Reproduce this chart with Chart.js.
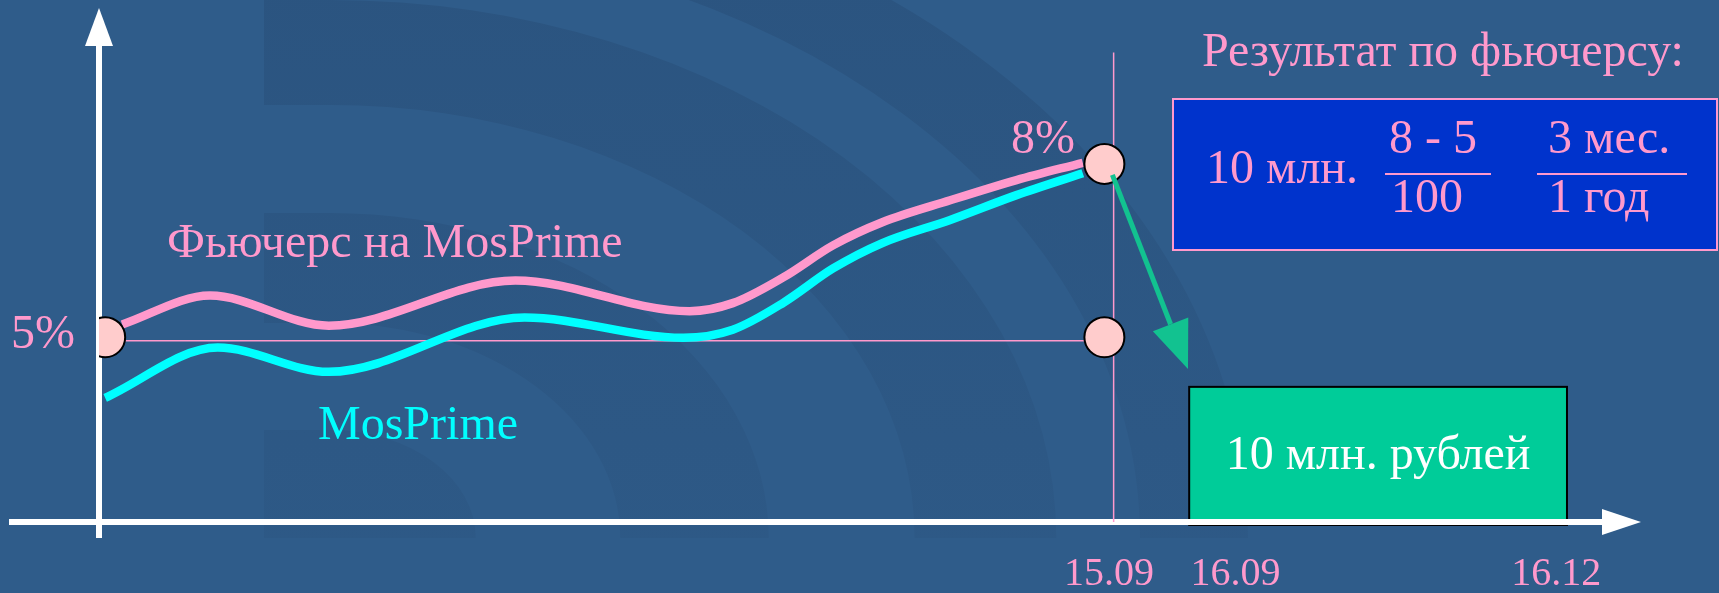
<!DOCTYPE html>
<html>
<head>
<meta charset="utf-8">
<script src="https://cdn.jsdelivr.net/npm/chart.js@4.4.1/dist/chart.umd.min.js"></script>
<style>
  html, body { margin: 0; padding: 0; background: #2e5b89; overflow: hidden; }
  canvas { display: block; }
</style>
</head>
<body>
<canvas id="chart" width="1719" height="593"></canvas>
<script>
// x: time in arbitrary units (0 = y axis), y: rate in percent
const futuresX = [1.5, 7.2, 14.9, 27.0, 38.3, 41.1, 44.4, 47.6, 50.8, 55.2, 59.5, 63.8];
const futuresY = [5.22, 5.72, 5.20, 5.98, 5.45, 5.59, 6.04, 6.59, 6.99, 7.37, 7.72, 8.02];
const mosprimeX = [0.4, 7.7, 14.9, 27.6, 37.9, 41.1, 44.4, 47.6, 50.8, 55.2, 59.5, 63.8];
const mosprimeY = [3.95, 4.82, 4.40, 5.34, 4.99, 5.13, 5.60, 6.19, 6.63, 7.03, 7.46, 7.84];
const rateX = [0.4, 65.2, 65.2];
const rateY = [5, 8, 5];
const fixX = [0.4, 65.2];
const fixY = [4.94, 4.94];
const expiryX = [65.8, 65.8];
const expiryY = [1.8, 9.93];
const tickValues = [65.5, 73.7, 94.5];
const tickLabels = ['15.09', '16.09', '16.12'];

const PINK = '#ff99cc';
const CYAN = '#00ffff';
const SERIF = '"Liberation Serif", "Times New Roman", serif';

const pts = (xs, ys) => xs.map((x, i) => ({x: x, y: ys[i]}));

// dark bands of the slide background
function ring(ctx, x0, cx, cy, ro, ri, k) {
  ctx.beginPath();
  ctx.moveTo(x0, cy - ro);
  ctx.lineTo(cx, cy - ro);
  ctx.ellipse(cx, cy, ro * k, ro, 0, -Math.PI / 2, 0);
  if (ri > 0) {
    ctx.lineTo(cx + ri * k, cy);
    ctx.ellipse(cx, cy, ri * k, ri, 0, 0, -Math.PI / 2, true);
    ctx.lineTo(x0, cy - ri);
  } else {
    ctx.lineTo(x0, cy);
  }
  ctx.closePath();
  ctx.fill();
}

const background = {
  id: 'background',
  beforeDraw(chart) {
    const ctx = chart.ctx;
    ctx.save();
    ctx.fillStyle = '#2f5c8a';
    ctx.fillRect(0, 0, chart.width, chart.height);
    let g = ctx.createLinearGradient(0, 0, 0, 593);
    g.addColorStop(0, 'rgba(36,70,110,0.35)');
    g.addColorStop(1, 'rgba(36,70,110,0.12)');
    ctx.fillStyle = g;
    ring(ctx, 264, 330, 538, 680, 600, 1.35);
    ring(ctx, 264, 330, 538, 538, 433, 1.35);
    ring(ctx, 264, 330, 538, 325, 215, 1.35);
    ring(ctx, 264, 330, 538, 108, 0, 1.35);
    ctx.restore();
  }
};

const axesAndBox = {
  id: 'axesAndBox',
  beforeDatasetsDraw(chart) {
    const ctx = chart.ctx;
    const xs = chart.scales.x, ys = chart.scales.y;
    const ax = xs.getPixelForValue(0);
    const ay = ys.getPixelForValue(1.8);
    const top = chart.chartArea.top, right = chart.chartArea.right;
    ctx.save();
    // payoff box
    const bx0 = xs.getPixelForValue(70.7), bx1 = xs.getPixelForValue(95.2);
    const by0 = ys.getPixelForValue(4.14);
    ctx.fillStyle = '#00cc99';
    ctx.fillRect(bx0, by0, bx1 - bx0, ay - by0 + 3);
    ctx.strokeStyle = '#000';
    ctx.lineWidth = 2;
    ctx.strokeRect(bx0, by0, bx1 - bx0, ay - by0 + 3);
    // axes
    ctx.strokeStyle = '#fff';
    ctx.fillStyle = '#fff';
    ctx.lineWidth = 6;
    ctx.beginPath();
    ctx.moveTo(ax, ay + 16);
    ctx.lineTo(ax, top + 36);
    ctx.moveTo(9, ay);
    ctx.lineTo(right - 36, ay);
    ctx.stroke();
    ctx.beginPath();
    ctx.moveTo(ax, top);
    ctx.lineTo(ax + 14, top + 38);
    ctx.lineTo(ax - 14, top + 38);
    ctx.closePath();
    ctx.fill();
    ctx.beginPath();
    ctx.moveTo(right, ay);
    ctx.lineTo(right - 39, ay - 13);
    ctx.lineTo(right - 39, ay + 13);
    ctx.closePath();
    ctx.fill();
    ctx.font = '48px ' + SERIF;
    ctx.fillStyle = '#fff';
    ctx.textAlign = 'center';
    ctx.textBaseline = 'alphabetic';
    ctx.fillText('10 млн. рублей', (bx0 + bx1) / 2, 469);
    ctx.restore();
  }
};

const notes = {
  id: 'notes',
  afterDatasetsDraw(chart) {
    const ctx = chart.ctx;
    const xs = chart.scales.x, ys = chart.scales.y;
    ctx.save();
    // arrow from the 8% point to the payoff
    const sx = xs.getPixelForValue(65.2) + 8, sy = ys.getPixelForValue(8) + 11;
    const tx = 1188, ty = 369;
    const dx = tx - sx, dy = ty - sy, len = Math.hypot(dx, dy);
    const ux = dx / len, uy = dy / len;
    const hb = 48, hw = 19;
    ctx.strokeStyle = '#12c290';
    ctx.fillStyle = '#12c290';
    ctx.lineWidth = 5;
    ctx.beginPath();
    ctx.moveTo(sx, sy);
    ctx.lineTo(tx - ux * hb, ty - uy * hb);
    ctx.stroke();
    ctx.beginPath();
    ctx.moveTo(tx, ty);
    ctx.lineTo(tx - ux * hb - uy * hw, ty - uy * hb + ux * hw);
    ctx.lineTo(tx - ux * hb + uy * hw, ty - uy * hb - ux * hw);
    ctx.closePath();
    ctx.fill();

    ctx.font = '48px ' + SERIF;
    ctx.textBaseline = 'alphabetic';
    ctx.fillStyle = PINK;
    ctx.textAlign = 'right';
    ctx.fillText('5%', 75, 348);
    ctx.fillText('8%', 1075, 153);
    ctx.textAlign = 'left';
    ctx.fillText('Фьючерс на MosPrime', 167, 257);
    ctx.fillText('Результат по фьючерсу:', 1202, 66);
    ctx.fillStyle = CYAN;
    ctx.fillText('MosPrime', 318, 439);

    // formula box
    ctx.fillStyle = '#0033cc';
    ctx.fillRect(1173, 99, 544, 151);
    ctx.strokeStyle = PINK;
    ctx.lineWidth = 2;
    ctx.strokeRect(1173, 99, 544, 151);
    ctx.fillStyle = PINK;
    ctx.fillText('10 млн.', 1206, 183);
    ctx.fillText('8 - 5', 1389, 153);
    ctx.fillText('100', 1391, 212);
    ctx.fillText('3 мес.', 1548, 153);
    ctx.fillText('1 год', 1548, 212);
    ctx.beginPath();
    ctx.moveTo(1385, 174); ctx.lineTo(1491, 174);
    ctx.moveTo(1537, 174); ctx.lineTo(1687, 174);
    ctx.stroke();
    ctx.restore();
  }
};

new Chart(document.getElementById('chart'), {
  type: 'line',
  data: {
    datasets: [
      {
        type: 'scatter',
        label: 'rate',
        data: pts(rateX, rateY),
        pointRadius: 20,
        pointBackgroundColor: '#ffcccc',
        pointBorderColor: '#000',
        pointBorderWidth: 2,
        order: 0
      },
      {
        label: 'Фьючерс на MosPrime',
        data: pts(futuresX, futuresY),
        borderColor: PINK,
        borderWidth: 8.5,
        cubicInterpolationMode: 'monotone',
        pointRadius: 0,
        order: 1
      },
      {
        label: 'MosPrime',
        data: pts(mosprimeX, mosprimeY),
        borderColor: CYAN,
        borderWidth: 8.5,
        cubicInterpolationMode: 'monotone',
        pointRadius: 0,
        order: 2
      },
      {
        label: 'fix',
        data: pts(fixX, fixY),
        borderColor: PINK,
        borderWidth: 1.5,
        pointRadius: 0,
        order: 3
      },
      {
        label: 'expiry',
        data: pts(expiryX, expiryY),
        borderColor: PINK,
        borderWidth: 1.5,
        pointRadius: 0,
        order: 3
      }
    ]
  },
  options: {
    responsive: false,
    devicePixelRatio: 1,
    animation: false,
    layout: { autoPadding: false, padding: { left: 99, right: 78, top: 8, bottom: -33 } },
    plugins: { legend: { display: false }, tooltip: { enabled: false } },
    scales: {
      x: {
        type: 'linear',
        min: 0,
        max: 100,
        grid: { display: false, drawTicks: false },
        border: { display: false },
        afterBuildTicks: (scale) => { scale.ticks = tickValues.map(v => ({value: v})); },
        ticks: {
          autoSkip: false,
          maxRotation: 0,
          padding: 28,
          color: PINK,
          font: { family: SERIF, size: 40, lineHeight: 1.2 },
          callback: (v, i) => tickLabels[i]
        }
      },
      y: {
        type: 'linear',
        min: 1.8,
        max: 10.7,
        display: false
      }
    }
  },
  plugins: [background, axesAndBox, notes]
});
</script>
</body>
</html>
